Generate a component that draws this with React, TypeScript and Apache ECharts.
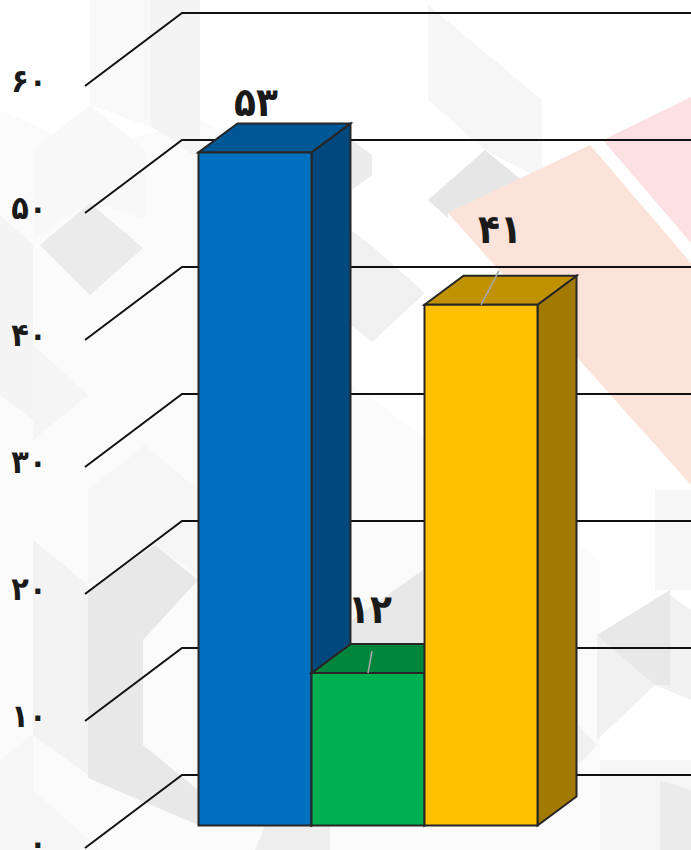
import React, { useEffect, useRef } from "react";
import * as echarts from "echarts";

const categories = ["a", "b", "c"];
const barValues = [53, 12, 41];
const valueLabels = ["۵۳", "۱۲", "۴۱"];
const gridTicks = [0, 10, 20, 30, 40, 50, 60];
const tickLabels = ["۰", "۱۰", "۲۰", "۳۰", "۴۰", "۵۰", "۶۰"];

const frontColors = ["#0070C0", "#00B050", "#FFC000"];
const topColors = ["#005796", "#00853D", "#C09100"];
const sideColors = ["#00487D", "#00733A", "#A27A00"];
const labelOffsets = [[1, -50], [2, -64], [19, -76]];
const leaderEnds = [null, [4, -22], [18, -34]];

const W = 691, H = 850;
const gridLeft = 198.5, gridRight = 537.5, gridTop = 86, gridBottom = 848;
const barPlaneDy = -22.5, wallDy = -73, wallX = 182, tickX = 85;
const depthX = 39, depthY = -29;
const ink = "#262626";

const bgShapes: [string, number[][]][] = [
  ["#fbfbfb", [[0, 110], [90, 150], [200, 120], [345, 200], [345, 850], [0, 850]]],
  ["#fbfbfb", [[345, 380], [600, 560], [600, 850], [345, 850]]],
  ["#f9f9f9", [[90, 0], [200, 0], [200, 145], [90, 105]]],
  ["#f4f4f4", [[150, 0], [200, 0], [200, 160], [150, 125]]],
  ["#f8f8f8", [[33, 150], [90, 105], [145, 150], [145, 220], [90, 200], [33, 240]]],
  ["#ebebeb", [[40, 245], [90, 203], [143, 248], [90, 295]]],
  ["#f4f4f4", [[0, 215], [33, 245], [33, 420], [0, 395]]],
  ["#f5f5f5", [[33, 345], [88, 395], [33, 440]]],
  ["#f3f3f3", [[33, 540], [88, 585], [88, 775], [33, 735]]],
  ["#e8e8e8", [[88, 590], [155, 545], [198, 580], [143, 640], [143, 745], [198, 790], [198, 825], [88, 778]]],
  ["#f6f6f6", [[88, 490], [145, 445], [198, 490], [198, 575], [155, 545], [88, 585]]],
  ["#f6f6f6", [[33, 735], [0, 760], [0, 850], [100, 850], [33, 790]]],
  ["#eeeeee", [[255, 850], [265, 826], [330, 826], [330, 850]]],
  ["#f6f6f6", [[428, 5], [542, 100], [542, 180], [485, 150], [428, 100]]],
  ["#e6e6e6", [[428, 200], [485, 150], [540, 195], [448, 213], [448, 218]]],
  ["#f0f0f0", [[351, 230], [373, 247], [425, 293], [372, 342], [351, 325]]],
  ["#ececec", [[352, 140], [372, 155], [372, 175], [352, 190]]],
  ["#fce0e2", [[603, 140], [691, 97], [691, 243]]],
  ["#fce3d9", [[448, 213], [590, 145], [691, 263], [691, 485]]],
  ["#f1f1f1", [[597, 635], [670, 595], [691, 610], [691, 700], [655, 685], [597, 740]]],
  ["#e8e8e8", [[597, 635], [670, 590], [670, 685], [655, 685]]],
  ["#f6f6f6", [[655, 490], [691, 490], [691, 590], [655, 590]]],
  ["#f1f1f1", [[578, 725], [597, 745], [578, 765]]],
  ["#f6f6f6", [[600, 760], [691, 760], [691, 850], [600, 850]]],
  ["#ececec", [[660, 780], [691, 790], [691, 850], [660, 850]]],
  ["#e8e8e8", [[352, 620], [423, 570], [423, 645], [352, 645]]],
];

function renderGrid(_p: any, api: any) {
  const y = api.coord([0, api.value(1)])[1];
  return {
    type: "polyline",
    shape: { points: [[tickX, y], [wallX, y + wallDy], [W, y + wallDy]] },
    style: { fill: "none", stroke: "#111111", lineWidth: 2 },
  };
}

function renderBar(p: any, api: any) {
  const i = p.dataIndex;
  const [cx, yTop0] = api.coord([api.value(0), api.value(1)]);
  const [, yBase0] = api.coord([api.value(0), 0]);
  const bw = api.size([1, 0])[0];
  const x0 = cx - bw / 2, x1 = cx + bw / 2;
  const yT = yTop0 + barPlaneDy, yB = yBase0 + barPlaneDy;
  const border = { stroke: ink, lineWidth: 2, lineJoin: "miter" };
  const poly = (points: number[][], fill: string) => ({
    type: "polygon", shape: { points }, style: { fill, ...border },
  });
  const children: any[] = [
    poly([[x1, yT], [x1 + depthX, yT + depthY], [x1 + depthX, yB + depthY], [x1, yB]], sideColors[i]),
    poly([[x0, yT], [x0 + depthX, yT + depthY], [x1 + depthX, yT + depthY], [x1, yT]], topColors[i]),
    poly([[x0, yT], [x1, yT], [x1, yB], [x0, yB]], frontColors[i]),
  ];
  const end = leaderEnds[i];
  if (end) {
    children.push({
      type: "line",
      shape: { x1: cx, y1: yT, x2: cx + end[0], y2: yT + end[1] },
      style: { stroke: "#a6a6a6", lineWidth: 1.6 },
    });
  }
  children.push({
    type: "text",
    style: {
      text: valueLabels[i], x: cx + labelOffsets[i][0], y: yT + labelOffsets[i][1],
      align: "center", verticalAlign: "middle",
      font: "bold 40px 'DejaVu Sans Condensed'", fill: "#1a1a1a",
    },
  });
  return { type: "group", children };
}

export default function App() {
  const ref = useRef<HTMLDivElement>(null);
  useEffect(() => {
    document.body.style.margin = "0";
    const chart = echarts.init(ref.current!, null, { renderer: "svg" });
    chart.setOption({
      animation: false,
      backgroundColor: "#ffffff",
      grid: {
        left: gridLeft, width: gridRight - gridLeft, top: gridTop, height: gridBottom - gridTop,
        outerBoundsMode: "none",
      },
      xAxis: { type: "category", data: categories, show: false },
      yAxis: {
        type: "value", min: 0, max: 60, interval: 10,
        axisLine: { show: false }, axisTick: { show: false }, splitLine: { show: false },
        axisLabel: {
          margin: 152, fontSize: 32, fontWeight: "bold", fontFamily: "'DejaVu Sans Condensed'", color: "#1a1a1a",
          formatter: (v: number) => tickLabels[gridTicks.indexOf(v)],
          verticalAlign: "bottom", lineHeight: 10,
        },
      },
      graphic: {
        elements: bgShapes.map(([fill, points]) => ({
          type: "polygon", silent: true, z: -10, shape: { points }, style: { fill },
        })),
      },
      series: [
        { type: "custom", z: 2, renderItem: renderGrid, data: gridTicks.map((t) => [0, t]), silent: true },
        { type: "custom", z: 3, renderItem: renderBar, data: barValues.map((v, i) => [i, v]), silent: true },
      ],
    });
    return () => chart.dispose();
  }, []);
  return <div ref={ref} style={{ width: W, height: H }} />;
}
